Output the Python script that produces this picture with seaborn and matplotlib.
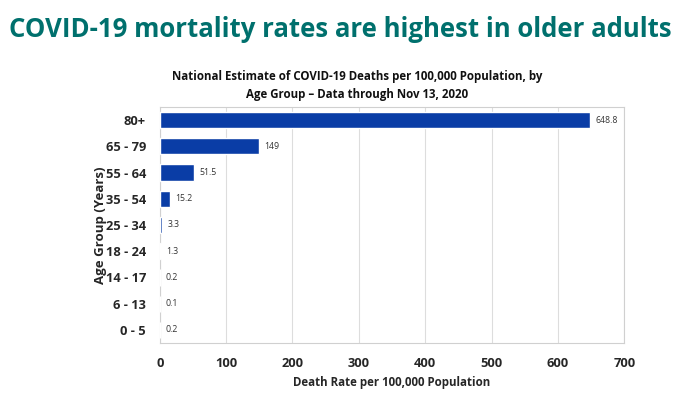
import matplotlib
matplotlib.use("Agg")
import matplotlib.pyplot as plt
import seaborn as sns
import pandas as pd

age_groups = ['80+', '65 - 79', '55 - 64', '35 - 54', '25 - 34', '18 - 24', '14 - 17', '6 - 13', '0 - 5']
death_rates = [648.8, 149, 51.5, 15.2, 3.3, 1.3, 0.2, 0.1, 0.2]
rate_labels = ['648.8', '149', '51.5', '15.2', '3.3', '1.3', '0.2', '0.1', '0.2']
x_ticks = [0, 100, 200, 300, 400, 500, 600, 700]

df = pd.DataFrame({'Age': age_groups, 'Rate': death_rates})

sns.set_style('white')
plt.rcParams['font.family'] = ['Open Sans', 'DejaVu Sans']

fig = plt.figure(figsize=(6.8, 3.93), dpi=100)
ax = fig.add_axes([0.235, 0.127, 0.683, 0.601])

sns.barplot(data=df, x='Rate', y='Age', color='#0A3DA6', saturation=1,
            width=0.62, ax=ax, zorder=3)

for i, (v, lab) in enumerate(zip(death_rates, rate_labels)):
    ax.text(v + 8, i, lab, va='center', ha='left', fontsize=6.3, color='#333333')

ax.set_xlim(0, 700)
ax.set_xticks(x_ticks)
ax.set_xticklabels([str(t) for t in x_ticks], fontsize=9.3, fontweight='bold')
ax.set_yticks(range(len(age_groups)))
ax.set_yticklabels(age_groups, fontsize=9.3, fontweight='bold')
ax.tick_params(axis='both', length=0, pad=10)
ax.tick_params(axis='x', pad=10)
ax.grid(axis='x', color='#DDDDDD', linewidth=0.8, zorder=0)
for s in ax.spines.values():
    s.set_color('#D0D0D0')
    s.set_linewidth(0.8)

ax.set_xlabel('Death Rate per 100,000 Population', fontsize=8.3, fontweight='bold', labelpad=4)
ax.set_ylabel('Age Group (Years)', fontsize=9.5, fontweight='bold', labelpad=-1)

fig.text(0.5, 0.925, 'COVID-19 mortality rates are highest in older adults',
         ha='center', va='center', fontsize=18.5, fontweight='bold', color='#00706D')
fig.text(0.525, 0.783, 'National Estimate of COVID-19 Deaths per 100,000 Population, by\nAge Group \u2013 Data through Nov 13, 2020',
         ha='center', va='center', fontsize=8.3, fontweight='bold', color='#111111', linespacing=1.45)

fig.savefig('out.png', dpi=100)
